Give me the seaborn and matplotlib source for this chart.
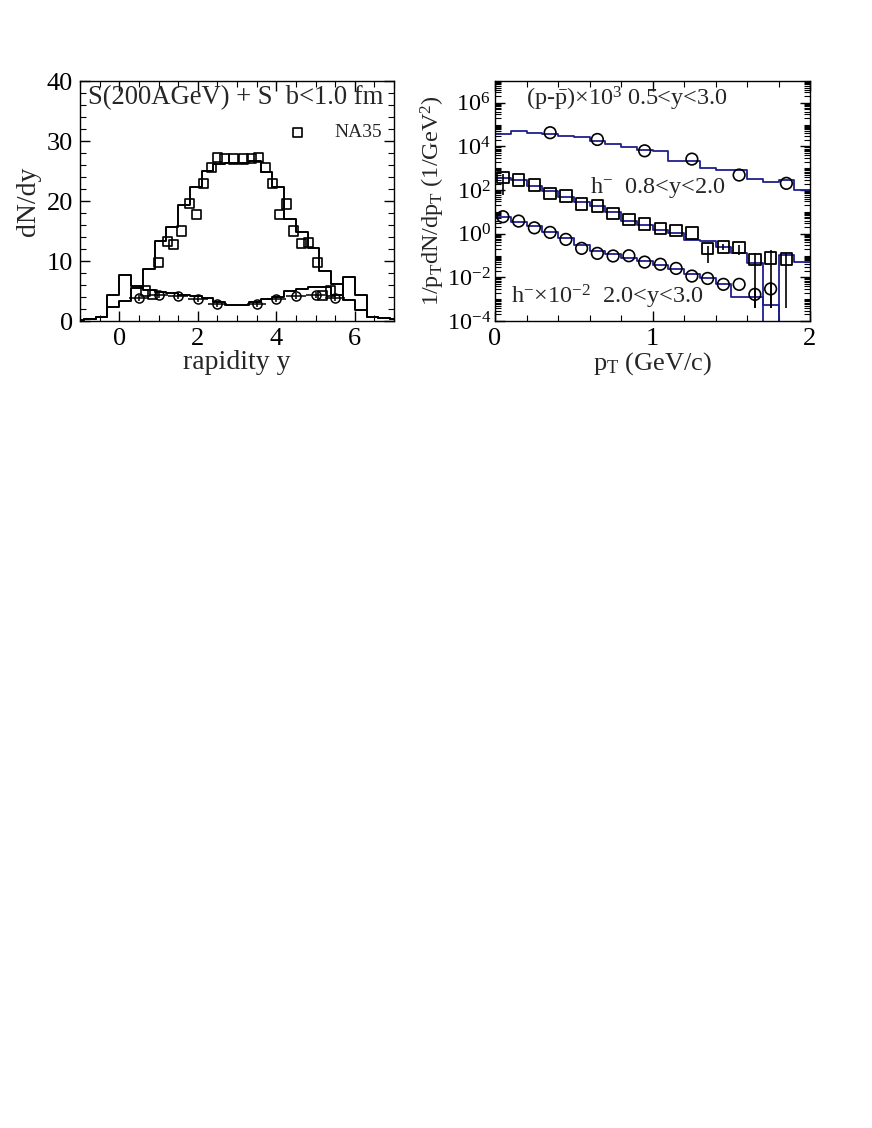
import numpy as np
import pandas as pd
import seaborn as sns
import matplotlib.pyplot as plt
from matplotlib.ticker import MultipleLocator, LogLocator, NullFormatter

# ---- left panel: dN/dy vs rapidity ----
y_edges = [round(-1.2 + 0.3 * i, 2) for i in range(29)]
hminus_model = [0.2, 0.3, 0.6, 2.3, 3.3, 5.5, 8.7, 13.4, 15.6, 19.3, 22.3, 25.0, 26.2, 26.4,
                26.3, 26.6, 24.9, 22.3, 17.0, 14.8, 12.2, 8.3, 6.1, 3.5, 1.9, 0.6, 0.5, 0.3]
proton_model = [0.2, 0.3, 0.6, 4.3, 7.6, 5.8, 5.2, 4.8, 4.6, 4.4, 4.1, 3.8, 3.2, 2.7,
                2.7, 3.2, 3.7, 4.0, 5.0, 5.3, 5.6, 5.6, 4.4, 7.4, 4.3, 0.6, 0.5, 0.3]

na35_y = [0.67, 0.84, 0.99, 1.23, 1.39, 1.59, 1.80, 1.98, 2.15, 2.34, 2.51, 2.69, 2.90,
          3.16, 3.37, 3.54, 3.72, 3.90, 4.09, 4.27, 4.45, 4.64, 4.83, 5.06, 5.19, 5.39]
na35_dndy = [5.0, 4.4, 9.7, 13.2, 12.8, 15.0, 19.6, 17.7, 22.9, 25.6, 27.3, 27.1, 27.0,
             27.0, 27.1, 27.2, 25.6, 22.9, 17.7, 19.5, 15.0, 12.9, 13.1, 9.8, 4.3, 5.0]

netp_y = [0.5, 1.0, 1.5, 2.0, 2.5, 3.5, 4.0, 4.5, 5.0, 5.5]
netp_dndy = [3.9, 4.3, 4.2, 3.6, 2.9, 2.9, 3.6, 4.2, 4.3, 3.9]

# ---- right panel: pT spectra (log10 of values) ----
pt_edges = [round(0.1 * i, 2) for i in range(21)]
pp_model_log = [4.57, 4.72, 4.63, 4.57, 4.49, 4.45, 4.26, 4.11, 3.96, 3.82,
                3.78, 3.35, 3.35, 3.03, 2.92, 2.92, 2.49, 2.39, 2.46, 2.0]
hm_model_log = [2.55, 2.45, 2.2, 1.95, 1.7, 1.45, 1.25, 1.0, 0.6, 0.42,
                0.15, 0.05, -0.27, -0.35, -0.6, -0.9, -1.36, np.nan, -0.97, -1.28]
hm2_model_log = [0.75, 0.55, 0.35, 0.1, -0.2, -0.5, -0.8, -0.95, -1.1, -1.25,
                 -1.45, -1.6, -1.85, -2.05, -2.3, -2.9, -2.9, -3.27, np.nan, np.nan]

pp_pt = [0.35, 0.65, 0.95, 1.25, 1.55, 1.85]
pp_log = [4.63, 4.32, 3.80, 3.42, 2.69, 2.31]
hm_pt = [0.05, 0.15, 0.25, 0.35, 0.45, 0.55, 0.65, 0.75, 0.85, 0.95,
         1.05, 1.15, 1.25, 1.35, 1.45, 1.55, 1.65, 1.75, 1.85]
hm_log = [2.58, 2.46, 2.23, 1.85, 1.73, 1.36, 1.27, 0.93, 0.66, 0.44,
          0.24, 0.14, 0.02, -0.67, -0.60, -0.63, -1.18, -1.10, -1.16]
hm2_pt = [0.05, 0.15, 0.25, 0.35, 0.45, 0.55, 0.65, 0.75, 0.85, 0.95,
          1.05, 1.15, 1.25, 1.35, 1.45, 1.55, 1.65, 1.75]
hm2_log = [0.78, 0.58, 0.27, 0.06, -0.26, -0.67, -0.90, -1.02, -1.01, -1.30,
           -1.40, -1.59, -1.94, -2.05, -2.32, -2.32, -2.78, -2.53]

# error bars (log10 of bar ends) where visible
err_pt = [0.05, 1.35, 1.45, 1.55, 1.65, 1.75, 1.85, 1.65, 1.75]
err_lo = [1.77, -1.33, -0.75, -0.97, -3.4, -3.4, -3.4, -3.4, -3.4]
err_hi = [2.76, -0.55, -0.45, -0.50, -0.9, -0.75, -0.9, -2.5, -2.2]

sns.set_theme(style="ticks")
plt.rcParams['font.family'] = ['Liberation Serif', 'DejaVu Serif']
plt.rcParams['mathtext.fontset'] = 'custom'
plt.rcParams['mathtext.rm'] = 'Liberation Serif'
plt.rcParams['mathtext.it'] = 'Liberation Serif:italic'
plt.rcParams['axes.edgecolor'] = 'black'
plt.rcParams['axes.linewidth'] = 1.0

fig = plt.figure(figsize=(8.72, 11.28), dpi=100)
ax1 = fig.add_axes([80 / 872, 1 - 321 / 1128, 314 / 872, 240 / 1128])
ax2 = fig.add_axes([495 / 872, 1 - 321 / 1128, 315 / 872, 240 / 1128])

ycent = [(a + b) / 2 for a, b in zip(y_edges[:-1], y_edges[1:])]
left_df = pd.DataFrame({'y': ycent, 'hm': hminus_model, 'p': proton_model})
sns.histplot(data=left_df, x='y', weights='hm', bins=y_edges, element='step',
             fill=False, color='black', linewidth=1.4, ax=ax1)
sns.histplot(data=left_df, x='y', weights='p', bins=y_edges, element='step',
             fill=False, color='black', linewidth=1.4, ax=ax1)
sns.scatterplot(x=na35_y, y=na35_dndy, marker='s', s=42, facecolor='none',
                edgecolor='black', linewidth=1.2, ax=ax1, label='NA35', zorder=5)
ax1.errorbar(netp_y, netp_dndy, xerr=0.25, yerr=0.5, fmt='o', ms=6.5, mfc='none',
             mec='black', ecolor='black', elinewidth=1.1, mew=1.1, capsize=0, zorder=5)

ax1.set_xlim(-1, 7)
ax1.set_ylim(0, 40)
ax1.xaxis.set_major_locator(MultipleLocator(2))
ax1.xaxis.set_minor_locator(MultipleLocator(0.5))
ax1.yaxis.set_major_locator(MultipleLocator(10))
ax1.yaxis.set_minor_locator(MultipleLocator(2))
ax1.set_xlabel('rapidity y', fontsize=20, labelpad=0)
ax1.set_ylabel('dN/dy', fontsize=20, labelpad=4)
ax1.text(-0.8, 37.3, 'S(200AGeV) + S  b<1.0 fm', fontsize=19.2, va='center')
ax1.legend(loc='upper right', bbox_to_anchor=(1.0, 0.87), frameon=False,
           fontsize=14, handlelength=1.0, handletextpad=1.4, borderaxespad=0.2,
           markerscale=1.0)

ptcent = [(a + b) / 2 for a, b in zip(pt_edges[:-1], pt_edges[1:])]
right_df = pd.DataFrame({
    'pt': ptcent,
    'pp': np.nan_to_num(10.0 ** np.array(pp_model_log)),
    'hm': np.nan_to_num(10.0 ** np.array(hm_model_log)),
    'hm2': np.nan_to_num(10.0 ** np.array(hm2_model_log)),
})
for col in ['pp', 'hm', 'hm2']:
    sns.histplot(data=right_df, x='pt', weights=col, bins=pt_edges, element='step',
                 fill=False, color='#1f1f8f', linewidth=1.3, ax=ax2)
ax2.set_yscale('log')
ax2.vlines(err_pt, 10.0 ** np.array(err_lo), 10.0 ** np.array(err_hi),
           color='black', linewidth=1.2, zorder=4)
sns.scatterplot(x=pp_pt, y=10.0 ** np.array(pp_log), marker='o', s=70, facecolor='none',
                edgecolor='black', linewidth=1.2, ax=ax2, zorder=5)
sns.scatterplot(x=hm_pt, y=10.0 ** np.array(hm_log), marker='s', s=70, facecolor='none',
                edgecolor='black', linewidth=1.3, ax=ax2, zorder=5)
sns.scatterplot(x=hm2_pt, y=10.0 ** np.array(hm2_log), marker='o', s=70, facecolor='none',
                edgecolor='black', linewidth=1.2, ax=ax2, zorder=5)

ax2.set_xlim(0, 2)
ax2.set_ylim(1e-4, 1e7)
ax2.xaxis.set_major_locator(MultipleLocator(1))
ax2.xaxis.set_minor_locator(MultipleLocator(0.2))
ax2.yaxis.set_major_locator(LogLocator(base=100, numticks=10))
ax2.yaxis.set_minor_locator(LogLocator(base=10, subs=np.arange(1, 10), numticks=30))
ax2.yaxis.set_minor_formatter(NullFormatter())
ax2.set_xlabel('p$_\\mathrm{T}$ (GeV/c)', fontsize=19, labelpad=0)
ax2.set_ylabel('1/p$_\\mathrm{T}$dN/dp$_\\mathrm{T}$ (1/GeV$^2$)', fontsize=17.5, labelpad=0)
ax2.text(0.2, 10 ** 6.2, '(p-$\\bar{\\mathrm{p}}$)×10$^3$ 0.5<y<3.0', fontsize=17.5, va='center')
ax2.text(0.6, 10 ** 2.1, 'h$^{-}$  0.8<y<2.0', fontsize=17.5, va='center')
ax2.text(0.1, 10 ** -2.9, 'h$^{-}$×10$^{-2}$  2.0<y<3.0', fontsize=17.5, va='center')

for ax in (ax1, ax2):
    ax.tick_params(which='both', direction='in', top=True, right=True, colors='black',
                   labelsize=19, pad=5)
    ax.tick_params(which='major', length=7, width=1)
    ax.tick_params(which='minor', length=4, width=0.8)
    for sp in ax.spines.values():
        sp.set_visible(True)
        sp.set_color('black')
ax2.tick_params(axis='y', labelsize=17.5, pad=3)

fig.savefig('out.png', dpi=100, facecolor='white')
